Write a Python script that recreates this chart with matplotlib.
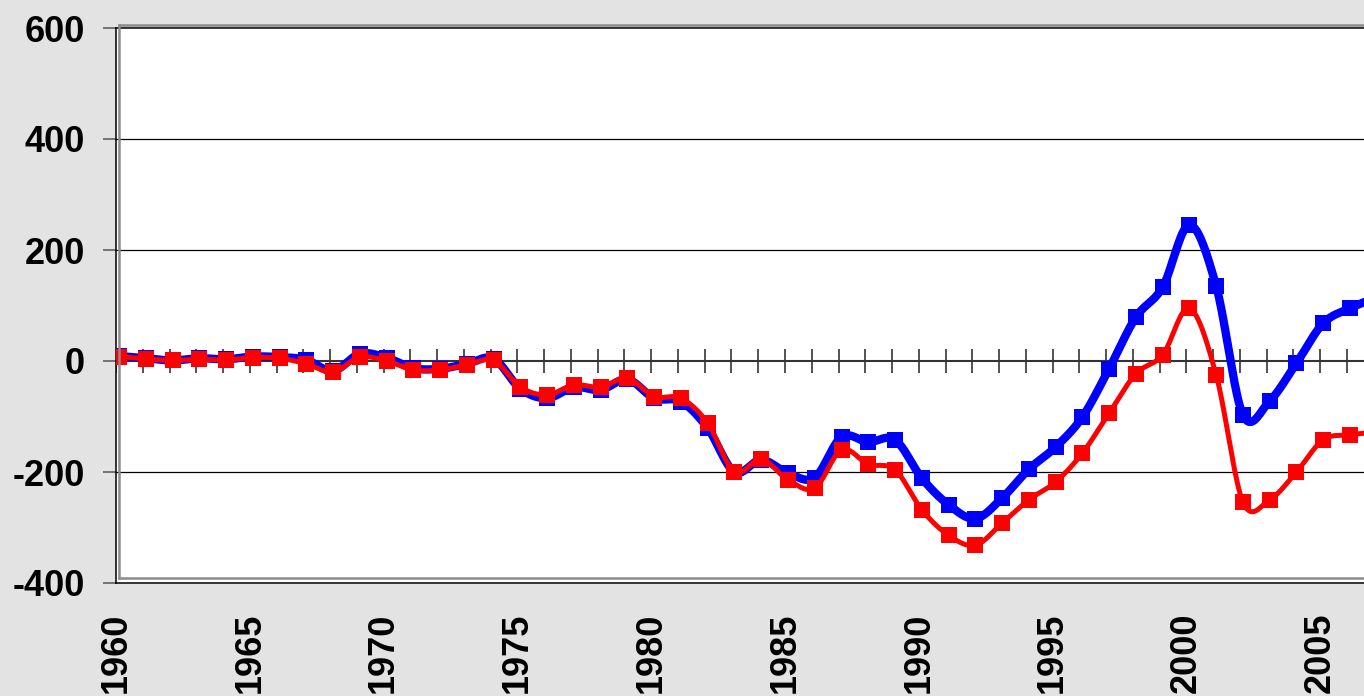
import numpy as np
import matplotlib
matplotlib.use("Agg")
import matplotlib.pyplot as plt
from matplotlib.lines import Line2D

years = list(range(1960, 2008))
blue = [9, 5, 1, 5, 3, 8, 7, 2, -18, 13,
        6, -13, -14, -5, 4, -50, -67, -47, -52, -33,
        -67, -73, -121, -200, -178, -202, -210, -137, -146, -142,
        -211, -259, -284, -247, -195, -155, -101, -14, 79, 133,
        245, 135, -97, -72, -4, 68, 95, 115]
red = [8, 4, 1, 3, 2, 6, 5, -5, -20, 7,
       0, -16, -16, -7, 1, -47, -61, -43, -47, -31,
       -64, -67, -112, -200, -177, -214, -229, -160, -186, -196,
       -268, -314, -332, -292, -250, -218, -166, -94, -23, 11,
       95, -25, -254, -250, -200, -142, -133, -128]
label_years = [1960, 1965, 1970, 1975, 1980, 1985, 1990, 1995, 2000, 2005]
y_ticks = [-400, -200, 0, 200, 400, 600]

W, H = 1364, 696
PX_YR = 26.76
BG = "#e3e3e3"
FONT = dict(family="Liberation Sans", weight="bold", size=26)


def smooth(x, y, n=20):
    # Excel-style smoothed line: Catmull-Rom segments as cubic Beziers
    p = np.column_stack([x, y]).astype(float)
    p = np.vstack([p[0], p, p[-1]])
    out = []
    t = np.linspace(0, 1, n)[:, None]
    for i in range(1, len(p) - 2):
        p0, p1, p2, p3 = p[i - 1], p[i], p[i + 1], p[i + 2]
        c1 = p1 + (p2 - p0) / 6
        c2 = p2 - (p3 - p1) / 6
        seg = ((1 - t) ** 3) * p1 + 3 * ((1 - t) ** 2) * t * c1 + 3 * (1 - t) * t ** 2 * c2 + t ** 3 * p2
        out.append(seg if i == 1 else seg[1:])
    s = np.vstack(out)
    return s[:, 0], s[:, 1]


fig = plt.figure(figsize=(W / 100, H / 100), dpi=100, facecolor=BG)
x0 = 1960 - 3 / PX_YR
x1 = 2008
left, top, bottom = 116, 28, 583
ax = fig.add_axes([left / W, (H - bottom) / H, (x1 - x0) * PX_YR / W, (bottom - top) / H])
ax.set_facecolor("white")
ax.set_xlim(x0, x1)
ax.set_ylim(-400, 600)

for v in [-200, 200, 400]:
    ax.axhline(v, color="black", lw=0.9, zorder=1)
ax.axhline(0, color="#333333", lw=1.5, zorder=1)
off = 3 / PX_YR
ax.vlines([yr - off for yr in years], -21.5, 21.5, color="#333333", lw=1.2, zorder=1)

bx, by = smooth(years, blue)
ax.plot(bx, by, color="#0000ff", lw=6, zorder=3)
ax.plot(years, blue, ls="none", marker="s", ms=11.3, mew=0, color="#0000ff", zorder=3)
rx, ry = smooth(years, red)
ax.plot(rx, ry, color="#ff0000", lw=3.6, zorder=4)
ax.plot(years, red, ls="none", marker="s", ms=11, mew=0, color="#ff0000", zorder=4)

ax.set_yticks(y_ticks)
ax.set_yticklabels([str(v) for v in y_ticks], fontdict=FONT)
ax.tick_params(axis="y", length=9.4, width=1.1, color="#555555", pad=13)
ax.set_xticks([yr - off for yr in label_years])
ax.set_xticklabels([str(v) for v in label_years], fontdict=FONT, rotation=90, va="top", ha="center")
ax.tick_params(axis="x", length=0, pad=21)

for s in ["left", "top", "bottom"]:
    ax.spines[s].set_color("black")
    ax.spines[s].set_linewidth(1.1)
ax.spines["right"].set_visible(False)

# grey back-wall edges
g = dict(color="#8c8c8c", lw=1.8, transform=fig.transFigure)
fig.add_artist(Line2D([119 / W, 119 / W], [(H - 25) / H, (H - 578) / H], **g))
fig.add_artist(Line2D([119 / W, 1], [(H - 25) / H, (H - 25) / H], **g))
fig.add_artist(Line2D([119 / W, 1], [(H - 578) / H, (H - 578) / H], **g))

fig.savefig("out.png", dpi=100, facecolor=BG)
